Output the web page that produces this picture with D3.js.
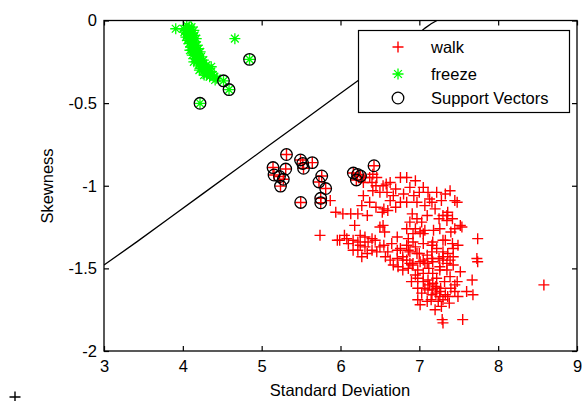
<!DOCTYPE html>
<html>
<head>
<meta charset="utf-8">
<script src="https://cdn.jsdelivr.net/npm/d3@7"></script>
<style>
  body { margin: 0; background: #fff; }
  svg { display: block; }
  text { font-family: "Liberation Sans", Arial, sans-serif; fill: #000; }
</style>
</head>
<body>
<div id="chart"></div>
<script>
// ---- data ----
var xTicks = [3, 4, 5, 6, 7, 8, 9];
var yTicks = [0, -0.5, -1, -1.5, -2];
var yTickLabels = ["0", "-0.5", "-1", "-1.5", "-2"];
var seriesNames = ["walk", "freeze", "Support Vectors"];

// walk samples that are not support vectors [std, skew]
var walk = [
  [6.31,-0.95],[6.40,-0.98],[6.46,-0.95],[6.54,-1.00],[6.63,-0.98],[6.76,-0.95],[6.84,-0.95],
  [6.95,-0.97],[6.88,-1.01],[7.05,-1.01],[7.11,-1.04],[7.22,-1.04],[7.39,-1.03],[7.45,-1.09],
  [7.16,-1.10],[7.07,-1.12],[6.97,-1.10],[6.84,-1.10],[6.76,-1.10],[6.67,-1.06],[6.59,-1.04],
  [6.50,-1.04],[6.41,-1.03],[6.29,-1.06],[6.27,-1.12],[6.37,-1.10],[6.63,-1.09],[6.29,-0.98],
  [6.37,-0.95],[6.41,-0.93],[5.87,-1.09],[5.94,-1.16],[6.03,-1.17],[6.13,-1.17],[6.22,-1.17],
  [6.34,-1.18],[6.53,-1.16],[6.55,-1.14],[6.91,-1.17],[6.97,-1.20],[7.03,-1.22],[6.88,-1.22],
  [6.84,-1.26],[6.95,-1.26],[7.01,-1.28],[7.07,-1.27],[7.26,-1.26],[7.35,-1.18],[7.42,-1.20],
  [7.36,-1.16],[7.30,-1.18],[7.35,-1.21],[7.54,-1.25],[7.52,-1.24],[7.48,-1.10],
  [6.45,-1.00],[6.58,-0.99],[6.70,-1.02],[6.80,-1.05],[6.93,-1.06],[7.00,-1.04],[7.13,-1.08],
  [7.28,-1.09],[7.33,-1.05],[6.70,-1.13],[6.60,-1.15],[6.45,-1.13],[7.20,-1.14],[7.25,-1.20],
  [7.10,-1.18],[7.18,-1.27],[7.40,-1.28],[7.45,-1.26],
  [7.33,-1.33],[7.42,-1.35],[7.49,-1.36],[7.74,-1.32],[7.73,-1.44],[7.74,-1.46],[7.36,-1.41],
  [7.39,-1.45],[7.43,-1.48],[7.30,-1.45],[7.26,-1.49],[7.17,-1.34],[7.16,-1.36],[7.30,-1.33],
  [7.43,-1.38],[7.43,-1.43],[7.30,-1.43],[7.35,-1.47],[6.79,-1.45],[6.88,-1.47],[7.05,-1.45],
  [7.10,-1.47],[7.16,-1.44],[7.17,-1.46],[7.16,-1.40],[7.30,-1.40],[7.10,-1.42],[6.97,-1.41],
  [6.88,-1.40],[6.84,-1.36],[6.92,-1.34],[7.05,-1.35],[6.86,-1.32],[6.72,-1.31],[6.56,-1.28],
  [6.54,-1.24],[6.44,-1.33],[6.40,-1.32],[6.31,-1.31],[6.25,-1.30],[6.22,-1.34],[6.16,-1.33],
  [6.08,-1.32],[5.99,-1.33],[5.96,-1.33],[5.74,-1.30],[6.18,-1.24],[6.50,-1.25],[6.22,-1.39],
  [6.31,-1.37],[6.40,-1.39],[6.46,-1.40],[6.50,-1.37],[6.57,-1.43],[6.60,-1.40],[6.34,-1.41],
  [6.25,-1.36],[6.16,-1.39],[6.72,-1.39],[6.79,-1.43],[6.92,-1.29],[7.05,-1.29],[6.86,-1.39],
  [6.65,-1.35],[6.76,-1.38],[6.95,-1.37],[7.00,-1.41],[7.22,-1.38],[7.25,-1.44],[7.12,-1.50],
  [6.55,-1.36],[6.10,-1.35],[6.05,-1.30],[6.35,-1.34],[6.27,-1.43],
  [6.91,-1.48],[6.98,-1.51],[7.05,-1.53],[7.11,-1.57],[7.22,-1.56],[7.35,-1.51],[7.39,-1.55],
  [7.48,-1.58],[7.67,-1.57],[7.68,-1.66],[7.45,-1.64],[7.26,-1.64],[7.22,-1.62],[7.16,-1.66],
  [7.11,-1.63],[7.03,-1.65],[6.98,-1.69],[7.01,-1.72],[7.07,-1.62],[7.29,-1.81],[7.30,-1.83],
  [7.55,-1.81],[7.26,-1.67],[7.17,-1.59],[6.98,-1.56],[6.95,-1.54],[6.86,-1.50],[6.79,-1.51],
  [6.73,-1.49],[6.67,-1.48],[6.63,-1.45],[6.72,-1.44],[6.84,-1.45],[6.92,-1.47],[7.01,-1.46],
  [7.07,-1.47],[7.17,-1.53],[7.26,-1.51],[7.36,-1.67],[7.49,-1.67],[7.45,-1.60],[7.30,-1.69],
  [6.98,-1.62],[7.17,-1.63],[7.21,-1.61],[7.21,-1.65],[7.27,-1.62],[7.33,-1.66],[7.24,-1.70],
  [7.15,-1.69],[7.05,-1.58],[7.13,-1.60],[7.32,-1.58],[7.40,-1.62],[7.28,-1.73],[7.20,-1.75],
  [7.10,-1.70],[7.38,-1.71],[7.60,-1.64],[7.52,-1.52],[6.90,-1.58],[8.58,-1.60]
];

// freeze samples that are not support vectors
var freeze = [
  [3.91,-0.05],[4.03,-0.06],[4.06,-0.05],[4.08,-0.07],[4.05,-0.08],[4.10,-0.06],[4.12,-0.08],
  [4.04,-0.10],[4.07,-0.09],[4.09,-0.11],[4.13,-0.10],[4.02,-0.07],[4.15,-0.09],[4.06,-0.12],
  [4.11,-0.12],[4.08,-0.04],[4.17,-0.11],[4.08,-0.14],[4.12,-0.14],[4.15,-0.13],[4.10,-0.16],
  [4.14,-0.17],[4.18,-0.15],[4.09,-0.18],[4.13,-0.19],[4.17,-0.18],[4.20,-0.17],[4.12,-0.21],
  [4.16,-0.21],[4.19,-0.20],[4.22,-0.19],[4.15,-0.23],[4.19,-0.23],[4.23,-0.22],[4.14,-0.25],
  [4.18,-0.25],[4.22,-0.25],[4.26,-0.24],[4.24,-0.27],[4.20,-0.27],[4.27,-0.28],[4.30,-0.27],
  [4.23,-0.29],[4.29,-0.30],[4.33,-0.29],[4.26,-0.31],[4.32,-0.32],[4.36,-0.31],[4.30,-0.33],
  [4.38,-0.33],[4.40,-0.34],[4.34,-0.34],[4.43,-0.35],[4.28,-0.30],[4.21,-0.30],[4.36,-0.28],
  [4.01,-0.05],[4.05,-0.03],[4.11,-0.04],[4.14,-0.06],[4.07,-0.11],[4.11,-0.10],[4.16,-0.15],
  [4.11,-0.18],[4.18,-0.21],[4.21,-0.23],[4.25,-0.26],[4.31,-0.30],[4.35,-0.33],[4.41,-0.36],
  [4.27,-0.33],[4.66,-0.11]
];

// support vectors (circled)
var walkSV = [
  [5.315,-0.811],[5.144,-0.890],[5.305,-0.899],[5.157,-0.935],[5.226,-0.944],[5.275,-0.961],
  [5.239,-1.002],[5.493,-0.844],[5.521,-0.865],[5.531,-0.894],[5.642,-0.860],[5.762,-0.941],
  [5.727,-0.977],[5.812,-1.017],[5.495,-1.101],[5.749,-1.076],[5.749,-1.103],[6.425,-0.879],
  [6.163,-0.923],[6.216,-0.932],[6.254,-0.941],[6.201,-0.965]
];
var freezeSV = [[4.846,-0.235],[4.516,-0.365],[4.586,-0.418],[4.218,-0.501]];

// separating boundary (traced contour)
var boundary = [
  [3.000,-1.480],[3.420,-1.338],[3.840,-1.192],[4.260,-1.046],[4.680,-0.900],[5.100,-0.754],
  [5.520,-0.608],[5.940,-0.462],[6.360,-0.316],[6.780,-0.168],[7.072,-0.046],[7.150,-0.020],
  [7.224,0]
];

// ---- drawing ----
var W = 582, H = 401;
var svg = d3.select("#chart").append("svg").attr("width", W).attr("height", H);

var x = d3.scaleLinear().domain([3, 9]).range([104, 577]);
var y = d3.scaleLinear().domain([-2, 0]).range([351, 20.5]);

svg.append("defs").append("clipPath").attr("id", "plotclip")
  .append("rect").attr("x", x(3)).attr("y", y(0)).attr("width", x(9) - x(3)).attr("height", y(-2) - y(0));

var plusPath = "M-5.5,0H5.5M0,-5.5V5.5";
var starPath = "M-5.5,0H5.5M0,-5.5V5.5M-3.9,-3.9L3.9,3.9M-3.9,3.9L3.9,-3.9";

var plot = svg.append("g").attr("clip-path", "url(#plotclip)");

plot.selectAll(".walk").data(walk.concat(walkSV)).enter().append("path")
  .attr("class", "walk")
  .attr("d", plusPath)
  .attr("transform", function(d){ return "translate(" + x(d[0]) + "," + y(d[1]) + ")"; })
  .style("fill", "none").style("stroke", "#ff0000").style("stroke-width", 1.4);

plot.selectAll(".freeze").data(freeze.concat(freezeSV)).enter().append("path")
  .attr("class", "freeze")
  .attr("d", starPath)
  .attr("transform", function(d){ return "translate(" + x(d[0]) + "," + y(d[1]) + ")"; })
  .style("fill", "none").style("stroke", "#00ff00").style("stroke-width", 1.3);

plot.selectAll(".sv").data(walkSV.concat(freezeSV)).enter().append("circle")
  .attr("class", "sv")
  .attr("cx", function(d){ return x(d[0]); })
  .attr("cy", function(d){ return y(d[1]); })
  .attr("r", 5.8)
  .style("fill", "none").style("stroke", "#000").style("stroke-width", 1.3);

plot.append("path").datum(boundary)
  .attr("d", d3.line().x(function(d){ return x(d[0]); }).y(function(d){ return y(d[1]); }))
  .style("fill", "none").style("stroke", "#000").style("stroke-width", 1.3);

// axes with inward ticks, box around
var fs = "16.5px";
var xAxis = svg.append("g").attr("transform", "translate(0," + y(-2) + ")")
  .call(d3.axisBottom(x).tickValues(xTicks).tickSize(-5).tickPadding(9).tickFormat(d3.format("d")));
var xAxisTop = svg.append("g").attr("transform", "translate(0," + y(0) + ")")
  .call(d3.axisTop(x).tickValues(xTicks).tickSize(-5).tickFormat(""));
var yAxis = svg.append("g").attr("transform", "translate(" + x(3) + ",0)")
  .call(d3.axisLeft(y).tickValues(yTicks).tickSize(-5).tickPadding(7)
    .tickFormat(function(d, i){ return yTickLabels[i]; }));
var yAxisRight = svg.append("g").attr("transform", "translate(" + x(9) + ",0)")
  .call(d3.axisRight(y).tickValues(yTicks).tickSize(-5).tickFormat(""));

[xAxis, xAxisTop, yAxis, yAxisRight].forEach(function(g){
  g.select(".domain").remove();
  g.selectAll(".tick line").style("stroke", "#000").style("stroke-width", 1.2);
  g.selectAll(".tick text").style("font-size", fs).style("font-family", "Liberation Sans, Arial, sans-serif").attr("fill", "#000");
});

svg.append("rect")
  .attr("x", x(3)).attr("y", y(0)).attr("width", x(9) - x(3)).attr("height", y(-2) - y(0))
  .style("fill", "none").style("stroke", "#000").style("stroke-width", 1.3);

svg.append("text").attr("x", 340).attr("y", 396).attr("text-anchor", "middle")
  .style("font-size", fs).text("Standard Deviation");
svg.append("text").attr("transform", "translate(53,186) rotate(-90)").attr("text-anchor", "middle")
  .style("font-size", fs).text("Skewness");

// legend
var legend = svg.append("g");
legend.append("rect").attr("x", 358.5).attr("y", 30.5).attr("width", 211).attr("height", 82)
  .style("fill", "#fff").style("stroke", "#000").style("stroke-width", 1.2);
var rows = [
  {name: seriesNames[0], y: 47},
  {name: seriesNames[1], y: 74},
  {name: seriesNames[2], y: 98}
];
legend.append("path").attr("d", plusPath).attr("transform", "translate(398," + rows[0].y + ")")
  .style("fill", "none").style("stroke", "#ff0000").style("stroke-width", 1.4);
legend.append("path").attr("d", starPath).attr("transform", "translate(398," + rows[1].y + ")")
  .style("fill", "none").style("stroke", "#00ff00").style("stroke-width", 1.3);
legend.append("circle").attr("cx", 398).attr("cy", rows[2].y).attr("r", 5.8)
  .style("fill", "none").style("stroke", "#000").style("stroke-width", 1.3);
legend.selectAll(".ltext").data(rows).enter().append("text")
  .attr("x", 431).attr("y", function(d){ return d.y; }).attr("dy", "0.36em")
  .style("font-size", fs).text(function(d){ return d.name; });

// stray marker at the lower-left corner of the figure
svg.append("path").attr("d", plusPath).attr("transform", "translate(15,397)")
  .style("fill", "none").style("stroke", "#000").style("stroke-width", 1.4);
</script>
</body>
</html>
